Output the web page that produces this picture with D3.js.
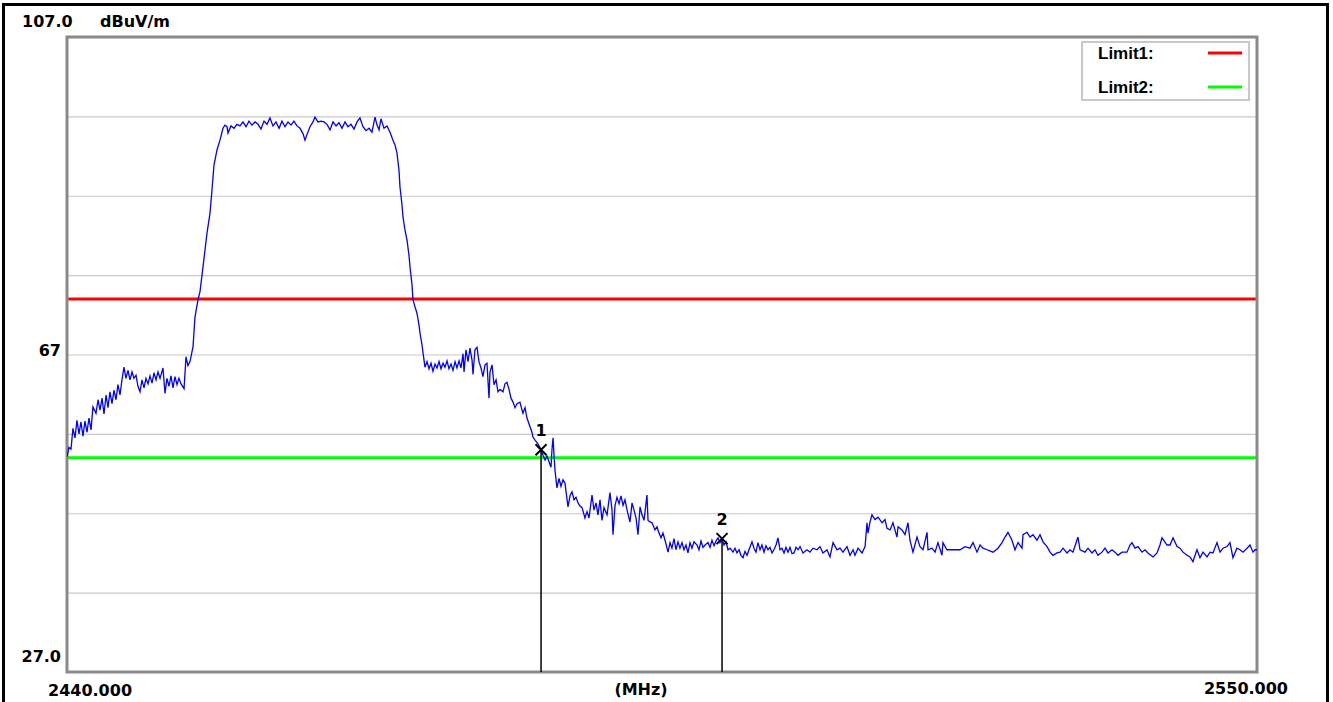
<!DOCTYPE html>
<html>
<head>
<meta charset="utf-8">
<script src="https://cdn.jsdelivr.net/npm/d3@7"></script>
<style>
  html, body { margin: 0; padding: 0; background: #fff; }
  svg { display: block; }
  text { font-family: "DejaVu Sans", sans-serif; font-weight: bold; fill: #000; }
</style>
</head>
<body>
<svg id="chart" width="1333" height="702"></svg>
<script>
// Sweep span (MHz) and reference range (dBuV/m)
const freqRange = [2440, 2550];
const levelRange = [27, 107];
const gridLevels = [37, 47, 57, 67, 77, 87, 97];
const levelLabels = [
  { level: 107, text: "107.0" },
  { level: 67, text: "67" },
  { level: 27, text: "27.0" }
];
const unitLabel = "dBuV/m";
const freqLabels = ["2440.000", "(MHz)", "2550.000"];

// Limit lines
const limits = [
  { name: "Limit1:", level: 74, color: "#ff0000" },
  { name: "Limit2:", level: 54, color: "#00ff00" }
];

// Markers placed on the trace
const markers = [
  { id: "1", freq: 2483.82, level: 55.0 },
  { id: "2", freq: 2500.55, level: 43.8 }
];

// Measured trace: [frequency MHz, level dBuV/m]
const trace = [
  [2440.00,54.1],[2440.18,55.3],[2440.37,55.1],[2440.55,57.7],[2440.74,56.5],[2440.92,58.7],[2441.11,57.0],[2441.29,58.5],[2441.48,56.7],[2441.66,58.6],
  [2441.85,57.2],[2442.03,59.0],[2442.22,57.5],[2442.40,60.4],[2442.68,59.6],[2442.87,61.3],[2443.05,60.0],[2443.24,61.5],[2443.42,59.5],[2443.61,61.9],
  [2443.79,60.3],[2443.97,62.3],[2444.16,60.8],[2444.34,62.5],[2444.53,61.3],[2444.71,63.2],[2444.90,61.9],[2445.08,63.8],[2445.27,65.4],[2445.45,64.0],
  [2445.64,65.0],[2445.82,63.8],[2446.01,64.8],[2446.19,64.0],[2446.38,64.4],[2446.56,63.0],[2446.75,62.3],[2446.93,63.8],[2447.12,62.8],[2447.30,64.0],
  [2447.49,63.3],[2447.67,64.3],[2447.86,63.4],[2448.04,64.7],[2448.23,63.8],[2448.41,64.8],[2448.60,64.0],[2448.87,65.3],[2449.06,62.1],[2449.24,64.0],
  [2449.43,63.0],[2449.61,64.3],[2449.80,62.8],[2449.98,64.2],[2450.17,63.2],[2450.35,64.0],[2450.54,63.3],[2450.82,62.7],[2451.00,66.7],[2451.18,65.6],
  [2451.37,66.1],[2451.65,68.0],[2451.83,71.7],[2452.11,73.9],[2452.29,74.9],[2452.57,78.0],[2452.76,80.2],[2452.94,82.3],[2453.22,84.8],[2453.40,87.7],
  [2453.59,90.9],[2453.87,92.8],[2454.14,94.0],[2454.42,95.5],[2454.60,95.9],[2454.79,95.7],[2454.88,94.9],[2455.16,95.8],[2455.44,95.5],[2455.71,96.0],
  [2455.99,95.8],[2456.27,96.3],[2456.55,95.7],[2456.82,96.4],[2457.10,95.9],[2457.38,96.3],[2457.66,96.0],[2457.93,95.4],[2458.21,96.4],[2458.49,96.0],
  [2458.76,96.8],[2459.04,95.8],[2459.32,96.3],[2459.60,95.5],[2459.87,96.4],[2460.15,95.7],[2460.43,96.3],[2460.71,95.9],[2460.98,96.4],[2461.26,95.8],
  [2461.54,95.5],[2461.82,94.8],[2462.00,94.0],[2462.18,94.7],[2462.46,95.7],[2462.74,96.3],[2462.92,96.9],[2463.20,96.3],[2463.48,96.4],[2463.76,96.3],
  [2464.03,96.0],[2464.31,95.3],[2464.59,96.3],[2464.87,95.8],[2465.14,96.2],[2465.42,95.5],[2465.70,96.3],[2465.97,95.7],[2466.25,96.0],[2466.53,95.4],
  [2466.81,96.3],[2467.08,96.8],[2467.36,95.7],[2467.64,95.2],[2467.92,95.5],[2468.19,95.0],[2468.47,96.9],[2468.66,95.9],[2468.84,95.3],[2469.02,96.7],
  [2469.30,95.5],[2469.58,95.8],[2469.86,95.0],[2470.13,94.0],[2470.32,93.4],[2470.50,92.4],[2470.69,90.2],[2470.78,88.1],[2470.97,85.8],[2471.06,84.3],
  [2471.24,82.7],[2471.43,81.4],[2471.61,79.5],[2471.71,78.0],[2471.89,75.8],[2471.98,73.9],[2472.17,73.0],[2472.35,72.2],[2472.54,70.7],[2472.63,69.7],
  [2472.82,68.2],[2472.91,67.2],[2473.09,65.4],
  [2473.28,66.1],[2473.46,65.2],[2473.65,65.9],[2473.83,64.9],[2474.02,65.8],[2474.20,65.3],[2474.39,66.1],[2474.57,65.2],[2474.76,65.9],[2474.94,65.4],
  [2475.13,66.2],[2475.31,65.2],[2475.50,65.8],[2475.68,65.0],[2475.87,66.1],[2476.05,65.3],[2476.24,66.2],[2476.42,65.3],[2476.61,67.1],[2476.70,64.8],
  [2476.88,67.6],[2477.07,66.1],[2477.25,67.8],[2477.44,66.3],[2477.53,64.5],[2477.71,67.6],[2477.90,67.9],[2478.08,66.1],[2478.27,65.3],[2478.45,64.2],
  [2478.64,65.7],[2478.82,65.9],[2479.01,61.5],[2479.10,64.8],[2479.29,65.7],[2479.47,63.2],[2479.66,63.8],[2479.84,62.3],[2480.03,62.6],[2480.30,62.3],
  [2480.49,63.3],[2480.67,63.5],[2480.86,62.6],[2481.04,61.5],[2481.23,61.0],[2481.41,60.3],[2481.60,60.8],[2481.87,61.0],[2482.06,60.0],[2482.15,59.6],
  [2482.34,60.3],[2482.52,59.0],[2482.80,57.9],[2482.98,57.2],[2483.07,56.6],[2483.26,56.2],[2483.45,55.9],[2483.63,55.5],[2483.82,55.0],[2484.00,54.3],
  [2484.19,53.7],[2484.37,54.2],[2484.56,53.5],[2484.74,52.8],[2484.83,55.0],[2484.93,56.5],[2485.02,54.3],[2485.11,52.4],[2485.29,50.2],[2485.48,51.4],
  [2485.66,50.4],[2485.85,51.2],[2486.03,50.8],[2486.31,47.8],[2486.50,49.2],[2486.68,49.7],[2486.87,48.7],[2487.05,49.0],[2487.24,48.3],[2487.42,47.9],
  [2487.61,47.7],[2487.88,46.4],[2488.07,47.2],[2488.25,46.4],[2488.53,49.3],[2488.71,47.4],[2488.90,48.3],[2489.08,46.8],[2489.27,48.7],[2489.45,46.1],
  [2489.64,47.7],[2489.92,46.8],[2490.19,49.6],[2490.38,47.4],[2490.47,44.3],[2490.66,48.0],[2490.84,49.0],[2491.03,48.2],[2491.21,49.2],[2491.40,48.0],
  [2491.58,48.7],[2491.77,47.4],[2492.04,45.9],[2492.23,48.3],[2492.41,47.4],[2492.60,46.4],[2492.78,44.3],[2492.97,47.8],[2493.15,46.8],[2493.34,46.1],
  [2493.61,49.3],[2493.71,46.1],[2493.89,45.9],[2494.08,45.8],[2494.35,44.9],[2494.54,45.3],[2494.72,44.5],[2494.91,43.9],[2495.09,44.5],[2495.28,43.6],
  [2495.56,42.1],[2495.74,43.3],[2495.92,42.6],[2496.11,43.8],[2496.29,42.4],[2496.48,43.4],[2496.66,42.6],[2496.85,43.3],[2497.03,42.4],[2497.22,43.0],
  [2497.40,42.0],[2497.59,43.3],[2497.77,42.6],[2497.96,43.4],[2498.24,43.0],[2498.42,42.4],[2498.61,43.5],[2498.79,42.7],[2498.98,43.0],[2499.25,43.3],
  [2499.44,42.7],[2499.62,43.6],[2499.81,42.9],[2499.99,43.5],[2500.18,43.9],[2500.36,43.3],[2500.55,43.8],[2500.73,43.0],[2500.92,43.4],[2501.10,42.4],
  [2501.29,42.6],[2501.56,42.1],[2501.75,42.6],[2501.93,42.0],[2502.12,42.4],[2502.30,41.7],[2502.49,41.4],[2502.67,42.2],[2502.86,41.7],[2503.04,42.4],
  [2503.32,43.4],[2503.50,42.6],[2503.69,42.1],[2503.87,43.3],[2504.06,42.4],[2504.24,43.0],[2504.43,42.1],[2504.61,42.9],[2504.80,42.4],[2504.98,42.7],
  [2505.17,42.0],[2505.35,42.4],[2505.54,43.0],[2505.72,43.9],[2505.91,42.4],[2506.09,42.6],[2506.28,42.0],[2506.46,42.7],[2506.65,42.1],[2506.83,42.7],
  [2507.02,41.9],[2507.20,42.0],[2507.39,42.7],[2507.57,42.4],
  [2507.76,42.8],[2508.03,42.0],[2508.40,42.4],[2508.68,42.1],[2508.96,42.6],[2509.33,42.4],[2509.60,42.8],[2509.88,42.0],[2510.25,42.4],[2510.53,41.5],
  [2510.81,43.3],[2511.18,42.4],[2511.45,42.6],[2511.73,42.1],[2512.10,42.8],[2512.38,41.7],[2512.66,42.4],[2512.84,41.7],[2513.12,42.6],[2513.49,42.0],
  [2513.77,42.8],[2513.95,45.8],[2514.04,44.5],[2514.23,45.9],[2514.41,46.8],[2514.69,46.2],[2514.97,46.5],[2515.34,45.8],[2515.61,46.2],[2515.80,45.1],
  [2516.08,44.9],[2516.35,45.8],[2516.72,44.0],[2516.82,45.3],[2517.19,44.9],[2517.46,44.3],[2517.74,45.8],[2517.92,43.6],[2518.20,42.1],[2518.57,44.0],
  [2518.85,42.8],[2519.13,42.4],[2519.50,44.6],[2519.59,42.4],[2519.96,42.6],[2520.24,42.1],[2520.51,43.3],[2520.88,41.7],[2520.97,43.3],[2521.34,42.4],
  [2521.90,42.4],[2522.55,42.4],[2523.01,42.8],[2523.47,42.6],[2523.75,43.3],[2524.12,42.1],[2524.40,43.0],[2524.67,42.6],[2525.04,42.4],[2525.60,42.1],
  [2526.06,42.6],[2526.43,43.3],[2526.71,44.0],[2526.98,44.6],[2527.35,43.6],[2527.63,42.4],[2527.91,43.3],[2528.28,42.6],[2528.37,44.3],[2528.74,44.6],
  [2529.02,44.0],[2529.29,44.3],[2529.66,43.6],[2529.94,44.3],[2530.22,43.4],[2530.59,42.8],[2530.87,42.1],[2531.14,41.7],[2531.51,42.0],[2531.79,42.1],
  [2532.07,42.6],[2532.44,42.0],[2532.71,42.4],[2532.99,42.1],[2533.45,44.0],[2533.64,42.4],[2534.10,42.1],[2534.38,42.6],[2534.75,42.0],[2535.02,42.4],
  [2535.30,41.7],[2535.67,42.1],[2535.95,42.6],[2536.23,42.0],[2536.60,42.4],[2536.87,42.1],[2537.15,41.7],[2537.52,42.1],[2537.98,42.1],[2538.26,43.0],
  [2538.45,43.3],[2538.72,42.6],[2539.00,42.8],[2539.37,42.1],[2539.65,42.4],[2539.92,42.0],[2540.39,41.5],[2540.76,42.0],[2541.03,43.0],[2541.22,43.9],
  [2541.68,43.0],[2541.96,43.0],[2542.24,43.9],[2542.61,42.8],[2542.88,42.6],[2543.16,42.1],[2543.53,41.7],[2543.81,41.5],[2544.08,40.9],[2544.45,42.4],
  [2544.73,41.4],[2545.01,42.1],[2545.38,41.5],[2545.66,42.1],[2545.93,42.0],[2546.30,43.3],[2546.58,42.1],[2546.86,42.6],[2547.23,42.8],[2547.50,43.3],
  [2547.78,41.4],[2548.15,42.6],[2548.43,42.4],[2548.71,42.1],[2549.08,42.6],[2549.35,43.0],[2549.63,42.1],[2549.82,42.4],[2550.00,42.4]
];

const W = 1333, H = 702;
const plot = { left: 67, right: 1257, top: 37, bottom: 672 };

const svg = d3.select("#chart");

const x = d3.scaleLinear().domain(freqRange).range([plot.left, plot.right]);
const y = d3.scaleLinear().domain(levelRange).range([plot.bottom, plot.top]);

// Outer window frame
svg.append("rect")
  .attr("x", 3.5).attr("y", 4.5)
  .attr("width", 1324).attr("height", 740)
  .attr("fill", "#fff").attr("stroke", "#000").attr("stroke-width", 3);

svg.append("defs").append("clipPath").attr("id", "plotClip")
  .append("rect")
  .attr("x", plot.left).attr("y", plot.top)
  .attr("width", plot.right - plot.left).attr("height", plot.bottom - plot.top);

// Horizontal grid lines
svg.append("g")
  .attr("transform", `translate(${plot.left},0)`)
  .call(d3.axisLeft(y).tickValues(gridLevels).tickSize(-(plot.right - plot.left)).tickFormat(""))
  .call(g => g.select(".domain").remove())
  .call(g => g.selectAll(".tick line").attr("stroke", "#c8c8c8").attr("stroke-width", 1.2));

// Limit lines
svg.append("g").attr("clip-path", "url(#plotClip)")
  .selectAll("line").data(limits).join("line")
  .attr("x1", x(freqRange[0])).attr("x2", x(freqRange[1]))
  .attr("y1", d => y(d.level)).attr("y2", d => y(d.level))
  .attr("stroke", d => d.color).attr("stroke-width", 3);

// Plot frame
svg.append("rect")
  .attr("x", plot.left).attr("y", plot.top)
  .attr("width", plot.right - plot.left).attr("height", plot.bottom - plot.top)
  .attr("fill", "none").attr("stroke", "#8a8a8a").attr("stroke-width", 3);

// Trace
const line = d3.line().x(d => x(d[0])).y(d => y(d[1]));
svg.append("path")
  .datum(trace)
  .attr("clip-path", "url(#plotClip)")
  .attr("d", line)
  .attr("fill", "none")
  .attr("stroke", "#0000ff")
  .attr("stroke-width", 1.3)
  .attr("stroke-linejoin", "miter");

// Markers
const mk = svg.append("g").selectAll("g").data(markers).join("g")
  .attr("transform", d => `translate(${x(d.freq)},${y(d.level)})`);
mk.append("line")
  .attr("x1", 0).attr("x2", 0).attr("y1", 0)
  .attr("y2", d => plot.bottom - y(d.level))
  .attr("stroke", "#000").attr("stroke-width", 1.5);
mk.append("path")
  .attr("d", "M-5.5,-5.5L5.5,5.5M-5.5,5.5L5.5,-5.5")
  .attr("stroke", "#000").attr("stroke-width", 2).attr("fill", "none");
mk.append("text")
  .attr("x", 0).attr("y", -14)
  .attr("text-anchor", "middle")
  .style("font-size", "16px")
  .text(d => d.id);

// Legend
const legend = svg.append("g");
legend.append("rect")
  .attr("x", 1082).attr("y", 42).attr("width", 167).attr("height", 58)
  .attr("fill", "#fff").attr("stroke", "#c8c8c8").attr("stroke-width", 2);
const li = legend.selectAll("g.item").data(limits).join("g")
  .attr("class", "item")
  .attr("transform", (d, i) => `translate(0,${53 + i * 34})`);
li.append("text")
  .attr("x", 1098).attr("y", 6)
  .style("font-family", "'Liberation Sans', Arial, sans-serif")
  .style("font-size", "17px")
  .text(d => d.name);
li.append("line")
  .attr("x1", 1208).attr("x2", 1242).attr("y1", 0).attr("y2", 0)
  .attr("stroke", d => d.color).attr("stroke-width", 3);

// Level labels
svg.append("g").selectAll("text").data(levelLabels).join("text")
  .attr("text-anchor", d => d.level === 107 ? "start" : "end")
  .attr("x", d => d.level === 107 ? 22 : 61)
  .attr("y", d => d.level === 67 ? y(d.level) + 1 : y(d.level) - 10)
  .style("font-size", "16px")
  .text(d => d.text);

svg.append("text")
  .attr("x", 100).attr("y", y(levelRange[1]) - 10)
  .style("font-size", "16px")
  .text(unitLabel);

// Frequency labels
svg.append("text")
  .attr("x", x(freqRange[0]) - 19).attr("y", 696)
  .style("font-size", "16px")
  .text(freqLabels[0]);
svg.append("text")
  .attr("x", 641).attr("y", 695)
  .attr("text-anchor", "middle")
  .style("font-size", "16px")
  .text(freqLabels[1]);
svg.append("text")
  .attr("x", x(freqRange[1]) + 31).attr("y", 694)
  .attr("text-anchor", "end")
  .style("font-size", "16px")
  .text(freqLabels[2]);
</script>
</body>
</html>
